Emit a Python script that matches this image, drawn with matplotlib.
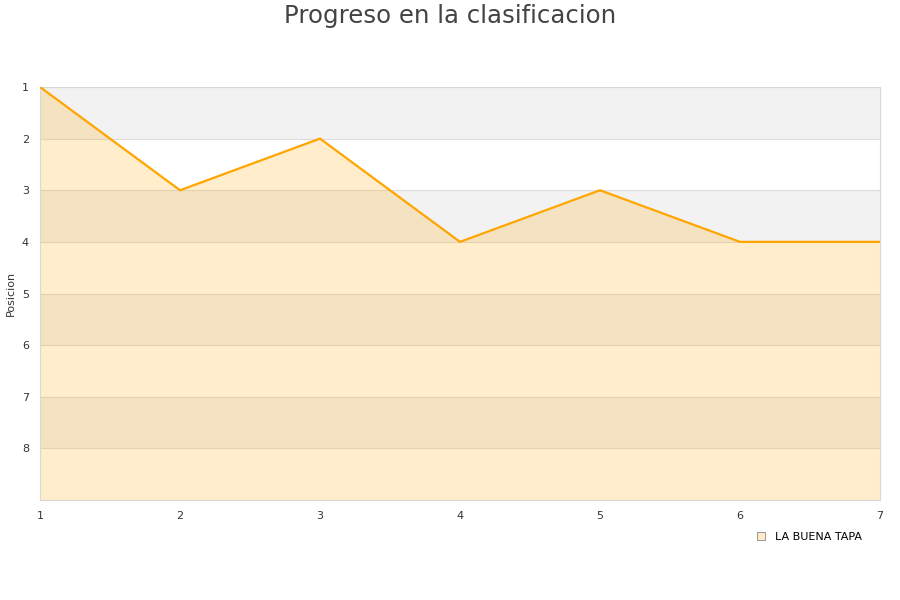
import numpy as np
import matplotlib
matplotlib.use('Agg')
import matplotlib.pyplot as plt
from matplotlib.lines import Line2D

jornadas = [1, 2, 3, 4, 5, 6, 7]
posicion = [1, 3, 2, 4, 3, 4, 4]
equipo = 'LA BUENA TAPA'
y_ticks = [1, 2, 3, 4, 5, 6, 7, 8]

naranja = '#ffa500'

fig = plt.figure(figsize=(9, 6), dpi=100)
ax = fig.add_axes([40 / 900, 100 / 600, 840 / 900, 413 / 600])

# bandas alternas
for y in range(1, 9, 2):
    ax.axhspan(y, y + 1, color='#f2f2f2', zorder=0, lw=0)
for y in range(1, 10):
    ax.axhline(y, color='#dddddd', lw=0.8, zorder=1)

ax.fill_between(jornadas, posicion, 9, color=naranja, alpha=0.2, lw=0, zorder=2)
ax.plot(jornadas, posicion, color=naranja, lw=1.6, zorder=3)

ax.set_xlim(1, 7)
ax.set_ylim(9, 1)
ax.set_yticks(y_ticks)
ax.set_xticks(jornadas)
ax.tick_params(length=0, labelsize=8, colors='#333333')
ax.tick_params(axis='x', pad=8)
ax.tick_params(axis='y', pad=8)
for s in ax.spines.values():
    s.set_color('#d8d8d8')
ax.set_ylabel('Posicion', fontsize=8, color='#333333', labelpad=4)

fig.text(0.5, 1 - 16 / 600, 'Progreso en la clasificacion', ha='center', va='center',
         fontsize=17.6, color='#444444')

h = Line2D([], [], marker='s', ls='none', markersize=6, markerfacecolor='#ffebc8',
           markeredgecolor='#888888', markeredgewidth=0.6)
fig.legend([h], [equipo], loc='center', bbox_to_anchor=(806 / 900, 1 - 537 / 600),
           frameon=False, fontsize=8, handletextpad=0.3)

plt.savefig('out.png', dpi=100)
